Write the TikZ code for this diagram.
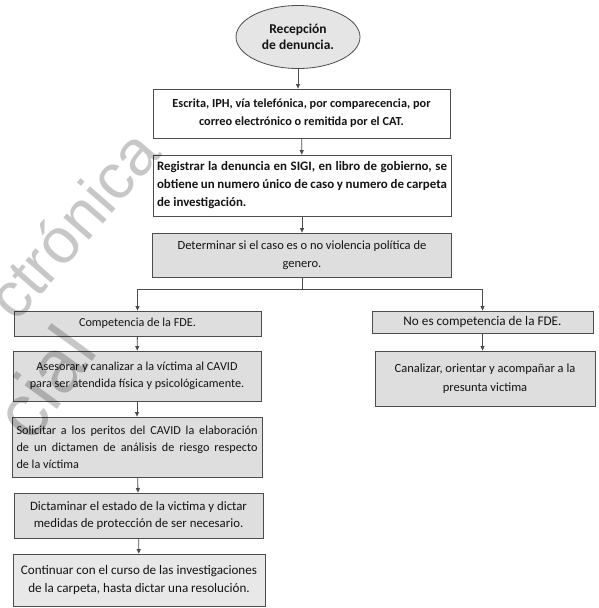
\documentclass[tikz,border=0pt]{standalone}
\usepackage{fontspec}
\setmainfont{Carlito}
\newfontfamily\wmfont{Liberation Sans}
\usetikzlibrary{shapes.geometric,arrows.meta}
\newcommand{\jline}[2]{\makebox[#1][s]{#2}}
\begin{document}
\begin{tikzpicture}[x=1pt,y=-1pt,
  base/.style={draw=black!70, line width=0.8pt, inner sep=0pt, text=black!92},
  topbox/.style={base, fill=white, align=center, font=\bfseries\fontsize{12.3}{18}\selectfont},
  greybox/.style={base, fill=black!13, align=center, font=\fontsize{12.2}{17}\selectfont},
  widegrey/.style={greybox, font=\fontsize{12.5}{18.5}\selectfont},
  startnode/.style={base, ellipse, fill=black!10, align=center, font=\bfseries\fontsize{13.5}{15.5}\selectfont, minimum width=124pt, minimum height=63pt},
  arr/.style={draw=black!70, line width=0.8pt, -{Triangle[length=4.5pt,width=4pt]}},
  ln/.style={draw=black!70, line width=0.8pt},
  wm/.style={text=black, text opacity=0.22, font=\wmfont\fontsize{64}{66}\selectfont, inner sep=0pt}
]
\useasboundingbox (0,0) rectangle (599,608);
\fill[white] (0,0) rectangle (599,608);

\node[startnode] (rec) at (298,37) {Recepción\\de denuncia.};
\node[topbox, minimum width=297pt, minimum height=49pt] (b1) at (301.5,113.5)
  {Escrita, IPH, vía telefónica, por comparecencia, por\\correo electrónico o remitida por el CAT.};
\node[topbox, align=left, font=\bfseries\fontsize{12.9}{18}\selectfont, minimum width=298pt, minimum height=61pt] (b2) at (302,185.5)
  {\jline{290pt}{Registrar la denuncia en SIGI, en libro de gobierno, se}\\\jline{290pt}{obtiene un numero único de caso y numero de carpeta}\\de investigación.};
\node[widegrey, minimum width=299pt, minimum height=44pt] (b3) at (302,255)
  {Determinar si el caso es o no violencia política de\\genero.};

\node[greybox, minimum width=247pt, minimum height=25pt] (c1) at (137.5,323.5) {Competencia de la FDE.};
\node[greybox, minimum width=248pt, minimum height=50pt] (c2) at (137,376)
  {Asesorar y canalizar a la víctima al CAVID\\para ser atendida física y psicológicamente.};
\node[greybox, align=left, minimum width=250pt, minimum height=60pt] (c3) at (137,447)
  {\jline{241pt}{Solicitar a los peritos del CAVID la elaboración}\\\jline{241pt}{de un dictamen de análisis de riesgo respecto}\\de la víctima};
\node[greybox, font=\fontsize{12.8}{17.5}\selectfont, minimum width=249pt, minimum height=45pt] (c4) at (138.5,515.5)
  {Dictaminar el estado de la victima y dictar\\medidas de protección de ser necesario.};
\node[greybox, fill=black!9, font=\fontsize{13.1}{19}\selectfont, minimum width=252pt, minimum height=52pt] (c5) at (139,580)
  {Continuar con el curso de las investigaciones\\de la carpeta, hasta dictar una resolución.};

\node[greybox, font=\fontsize{13.2}{16}\selectfont, minimum width=221pt, minimum height=22pt] (r1) at (482.5,322) {No es competencia de la FDE.};
\node[widegrey, minimum width=220pt, minimum height=55pt] (r2) at (485,378.5)
  {Canalizar, orientar y acompañar a la\\presunta victima};

\draw[arr] (rec.south) -- (rec.south |- b1.north);
\draw[arr] (b1) -- (b2);
\draw[arr] (b2) -- (b3);
\coordinate (j) at (302,289);
\draw[ln] (b3.south) -- (j);
\draw[arr] (j) -| (c1.north);
\draw[arr] (j) -| (r1.north);
\draw[arr] (c1) -- (c2);
\draw[arr] (c2) -- (c3);
\draw[arr] (c3) -- (c4);
\draw[arr] (c4) -- (c5);
\draw[arr] (r1.south) -- (r1.south |- r2.north);

\begin{scope}
\clip (0,0) rectangle (599,608);
\node[wm, rotate=49] (wm1) at (72,224) {ctrónica};
\node[wm, font=\wmfont\fontsize{76}{80}\selectfont, rotate=54] (wm2) at (44,382) {cial};
\end{scope}
\end{tikzpicture}
\end{document}
